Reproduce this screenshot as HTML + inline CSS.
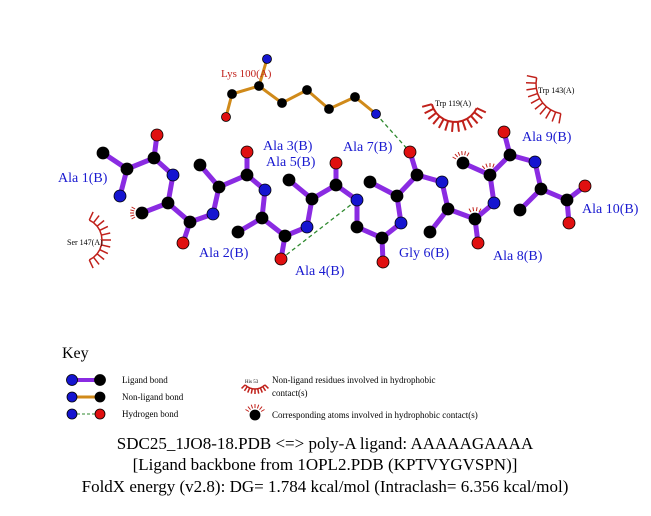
<!DOCTYPE html>
<html><head><meta charset="utf-8"><style>
body{margin:0;background:#fff;}
svg text{font-family:"Liberation Serif",serif;}
</style></head><body>
<svg id="s" width="651" height="511" xmlns="http://www.w3.org/2000/svg">
<g id="arcs" stroke="#c0201a" stroke-width="1.5" fill="none"></g>
<g stroke="#d08a1a" stroke-width="3" fill="none">
<polyline points="226,117 232,94 259,86 282,103 307,90 329,109 355,97 376,114"/>
<line x1="259" y1="86" x2="267" y2="59"/>
</g>
<g stroke="#2f8a2f" stroke-width="1.3" stroke-dasharray="4,3">
<line x1="376" y1="114" x2="410" y2="152"/>
<line x1="281" y1="259" x2="357" y2="200"/>
</g>
<g stroke="#8a2be2" stroke-width="5" fill="none" stroke-linecap="round">
<polyline points="120,196 127,169 154,158 173,175 168,203 190,222 213,214 219,187 247,175 265,190 262,218 285,236 307,227 312,199 336,185 357,200 357,227 382,238 401,223 397,196 417,175 442,182 448,209 475,219 494,203 490,175 510,155 535,162 541,189 567,200 585,186"/>
<line x1="127" y1="169" x2="103" y2="153"/><line x1="154" y1="158" x2="157" y2="135"/>
<line x1="168" y1="203" x2="142" y2="213"/><line x1="190" y1="222" x2="183" y2="243"/>
<line x1="219" y1="187" x2="200" y2="165"/><line x1="247" y1="175" x2="247" y2="152"/>
<line x1="262" y1="218" x2="238" y2="232"/><line x1="285" y1="236" x2="281" y2="259"/>
<line x1="312" y1="199" x2="289" y2="180"/><line x1="336" y1="185" x2="336" y2="163"/>
<line x1="382" y1="238" x2="383" y2="262"/><line x1="397" y1="196" x2="370" y2="182"/>
<line x1="417" y1="175" x2="410" y2="152"/><line x1="448" y1="209" x2="430" y2="232"/>
<line x1="475" y1="219" x2="478" y2="243"/><line x1="490" y1="175" x2="463" y2="163"/>
<line x1="510" y1="155" x2="504" y2="132"/><line x1="541" y1="189" x2="520" y2="210"/>
<line x1="567" y1="200" x2="569" y2="223"/>
</g>
<g id="atoms" stroke="#000" stroke-width="0.8"></g>
<g font-size="14" fill="#1a1ad0">
<text x="58" y="182">Ala 1(B)</text><text x="263" y="150">Ala 3(B)</text>
<text x="266" y="166">Ala 5(B)</text><text x="343" y="151">Ala 7(B)</text>
<text x="199" y="257">Ala 2(B)</text><text x="295" y="275">Ala 4(B)</text>
<text x="399" y="257">Gly 6(B)</text><text x="493" y="260">Ala 8(B)</text>
<text x="522" y="141">Ala 9(B)</text><text x="582" y="213">Ala 10(B)</text>
</g>
<text x="221" y="77" font-size="11" fill="#c0201a">Lys 100(A)</text>
<g font-size="8" fill="#000">
<text x="67" y="245">Ser 147(A)</text><text x="435" y="106">Trp 119(A)</text><text x="538" y="93">Trp 143(A)</text>
</g>
<text x="62" y="358" font-size="16">Key</text>
<g stroke-width="4"><line x1="72" y1="380" x2="100" y2="380" stroke="#8a2be2"/>
<line x1="72" y1="397" x2="100" y2="397" stroke="#d08a1a" stroke-width="3"/>
<line x1="72" y1="414" x2="100" y2="414" stroke="#2f8a2f" stroke-width="1" stroke-dasharray="3,2"/></g>
<g stroke="#000" stroke-width="0.8">
<circle cx="72" cy="380" r="5.5" fill="#1515d0"/><circle cx="100" cy="380" r="5.5" fill="#000"/>
<circle cx="72" cy="397" r="5" fill="#1515d0"/><circle cx="100" cy="397" r="5" fill="#000"/>
<circle cx="72" cy="414" r="5" fill="#1515d0"/><circle cx="100" cy="414" r="5" fill="#e01010"/>
<circle cx="255" cy="415" r="5" fill="#000"/></g>
<g font-size="9" fill="#000">
<text x="122" y="383">Ligand bond</text><text x="122" y="400">Non-ligand bond</text><text x="122" y="417">Hydrogen bond</text>
<text x="272" y="383">Non-ligand residues involved in hydrophobic</text><text x="272" y="396">contact(s)</text>
<text x="272" y="418">Corresponding atoms involved in hydrophobic contact(s)</text>
<text x="245" y="383" font-size="5">His 53</text>
</g>
<g font-size="17" fill="#000" text-anchor="middle">
<text x="325" y="449">SDC25_1JO8-18.PDB &lt;=&gt; poly-A ligand: AAAAAGAAAA</text>
<text x="325" y="470">[Ligand backbone from 1OPL2.PDB (KPTVYGVSPN)]</text>
<text x="325" y="492">FoldX energy (v2.8): DG= 1.784 kcal/mol (Intraclash= 6.356 kcal/mol)</text>
</g>
</svg>
<script>
var NS="http://www.w3.org/2000/svg";
var atoms=document.getElementById("atoms"),arcs=document.getElementById("arcs");
var B="#000",N="#1515d0",O="#e01010";
var list=[[103,153,B],[127,169,B],[120,196,N],[154,158,B],[157,135,O],[173,175,N],[168,203,B],[142,213,B],[190,222,B],[183,243,O],[213,214,N],[219,187,B],[200,165,B],[247,175,B],[247,152,O],[265,190,N],[262,218,B],[238,232,B],[285,236,B],[281,259,O],[307,227,N],[312,199,B],[289,180,B],[336,185,B],[336,163,O],[357,200,N],[357,227,B],[382,238,B],[383,262,O],[401,223,N],[397,196,B],[370,182,B],[417,175,B],[410,152,O],[442,182,N],[448,209,B],[430,232,B],[475,219,B],[478,243,O],[494,203,N],[490,175,B],[463,163,B],[510,155,B],[504,132,O],[535,162,N],[541,189,B],[520,210,B],[567,200,B],[585,186,O],[569,223,O]];
list.forEach(function(a){var c=document.createElementNS(NS,"circle");c.setAttribute("cx",a[0]);c.setAttribute("cy",a[1]);c.setAttribute("r",6);c.setAttribute("fill",a[2]);atoms.appendChild(c);});
[[267,59,N,4.5],[259,86,B,4.5],[232,94,B,4.5],[226,117,O,4.5],[282,103,B,4.5],[307,90,B,4.5],[329,109,B,4.5],[355,97,B,4.5],[376,114,N,4.5]].forEach(function(a){var c=document.createElementNS(NS,"circle");c.setAttribute("cx",a[0]);c.setAttribute("cy",a[1]);c.setAttribute("r",a[3]);c.setAttribute("fill",a[2]);atoms.appendChild(c);});
function fan(cx,cy,r,a0,a1,n,len,w){
 var d="";for(var i=0;i<n;i++){var t=(a0+(a1-a0)*i/(n-1))*Math.PI/180;var x=cx+r*Math.cos(t),y=cy+r*Math.sin(t);
 if(i==0)d+="M"+x+","+y;else d+=" L"+x+","+y;
 var l=document.createElementNS(NS,"line");l.setAttribute("x1",x);l.setAttribute("y1",y);l.setAttribute("x2",cx+(r+len)*Math.cos(t));l.setAttribute("y2",cy+(r+len)*Math.sin(t));if(w)l.setAttribute("stroke-width",w);arcs.appendChild(l);}
 if(r>10){var p=document.createElementNS(NS,"path");p.setAttribute("d",d);if(w)p.setAttribute("stroke-width",w);arcs.appendChild(p);}
}
fan(80,240,22,-65,65,11,9);
fan(455,98,24,25,165,13,10,2);
fan(566,84,30,100,192,10,10);
fan(142,213,8,150,210,5,4,1);
fan(463,163,8,-150,-60,6,4,1);
fan(490,175,8,-130,-50,5,4,1);
fan(475,219,8,-120,-60,4,4,1);
fan(255,415,7,-150,-30,7,4,1);
fan(255,375,14,45,135,9,5,1.5);
</script>
</body></html>
